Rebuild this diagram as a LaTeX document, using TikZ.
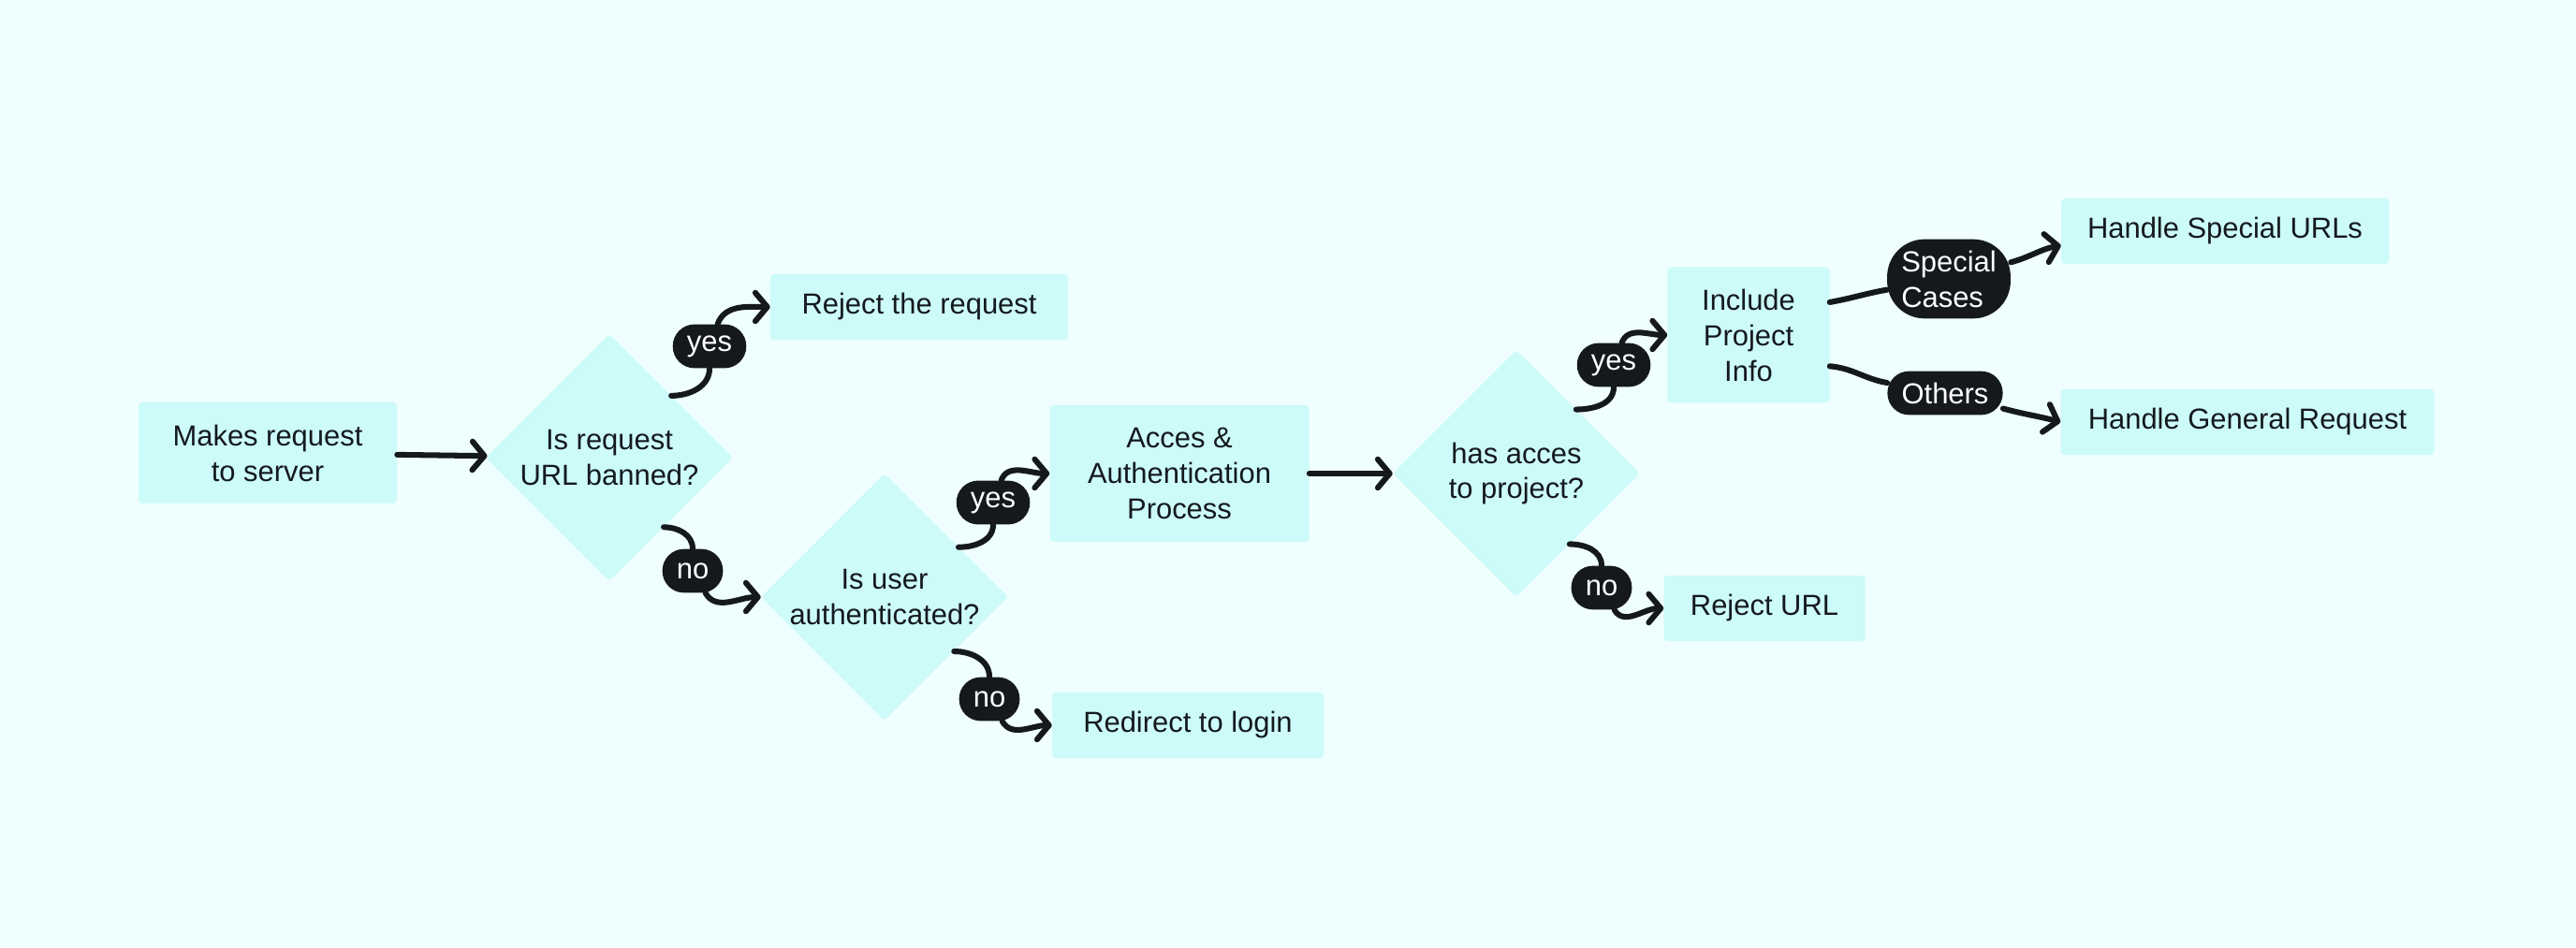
\documentclass[tikz,border=0pt]{standalone}
\usepackage{fontspec}
\setmainfont{Liberation Sans}
\usetikzlibrary{arrows.meta,shapes.geometric}
\definecolor{bgcyan}{HTML}{EFFEFE}
\definecolor{boxcyan}{HTML}{CCFBF9}
\definecolor{inkdark}{HTML}{15191E}
\tikzset{%
  >={Straight Barb[length=3.2mm,width=7.6mm,round]},
  % Specifications for style of nodes:
            base/.style = {rectangle, rounded corners=1mm, fill=boxcyan,
                           minimum width=7cm, minimum height=1.75cm,
                           text centered, align=center, text=inkdark,
                           font=\fontsize{22}{27}\selectfont},
       stepbox/.style = {base},
      decision/.style = {base, diamond, aspect=1, inner sep=-1mm,
                           minimum width=6.6cm, minimum height=6.6cm},
          pill/.style = {base, fill=inkdark, text=white, rounded corners=5.8mm,
                           minimum width=0pt, minimum height=1.17cm,
                           inner xsep=3.8mm, inner ysep=2.5mm},
          link/.style = {draw=inkdark, line width=4.3pt, line cap=round},
}

\begin{document}
\begin{tikzpicture}[node distance=9cm]
  % background
  \fill[bgcyan] (0,0) rectangle (68.8,25.3);

  % Specification of nodes (position, etc.)
  \node (makes)		[stepbox, minimum width=6.9cm, minimum height=2.7cm] at (7.15,13.2) {Makes request\\to server};
  \node (banned)	[decision, right of=makes, xshift=0.125cm, yshift=-0.125cm] {Is request\\URL banned?};
  \node (reject)	[stepbox, right of=banned, xshift=-0.725cm, yshift=4.025cm, minimum width=7.95cm] {Reject the request};
  \node (authd)		[decision, right of=banned, xshift=-1.65cm, yshift=-3.725cm] {Is user\\authenticated?};
  \node (acces)		[stepbox, right of=authd, xshift=-1.125cm, yshift=3.3cm, minimum width=6.925cm, minimum height=3.65cm] {Acces \&\\Authentication\\Process};
  \node (redirect)	[stepbox, right of=authd, xshift=-0.9cm, yshift=-3.425cm, minimum width=7.25cm] {Redirect to login};
  \node (project)	[decision, right of=acces] {has acces\\to project?};
  \node (include)	[stepbox, right of=project, xshift=-2.8cm, yshift=3.7cm, minimum width=4.325cm, minimum height=3.625cm] {Include\\Project\\Info};
  \node (rejurl)	[stepbox, right of=project, xshift=-2.375cm, yshift=-3.6cm, minimum width=5.375cm] {Reject URL};
  \node (special)	[stepbox, right of=include, xshift=3.725cm, yshift=2.775cm, minimum width=8.75cm] {Handle Special URLs};
  \node (general)	[stepbox, right of=include, xshift=4.325cm, yshift=-2.325cm, minimum width=9.975cm] {Handle General Request};

  % yes / no labels
  \node (yes1)		[pill] at (18.95,16.05) {yes};
  \node (no1)		[pill] at (18.5,10.05) {no};
  \node (yes2)		[pill] at (26.525,11.875) {yes};
  \node (no2)		[pill] at (26.425,6.625) {no};
  \node (yes3)		[pill] at (43.1,15.55) {yes};
  \node (no3)		[pill] at (42.775,9.6) {no};
  \node (speccases)	[pill, align=left, rounded corners=1cm, inner ysep=3mm] at (52.05,17.85) {Special\\Cases};
  \node (others)	[pill] at (51.95,14.8) {Others};

  \draw[->, link]	(makes) -- (banned);
  \draw[link]		(banned.45) to[out=0,in=-90] (yes1);
  \draw[->, link]	(yes1) to[out=70,in=180] (reject);
  \draw[link]		(banned.-52) to[out=0,in=90] (no1);
  \draw[->, link]	(no1) to[out=-60,in=180] (authd);
  \draw[link]		(authd.34) to[out=0,in=-90] (yes2);
  \draw[->, link]	(yes2) to[out=70,in=180] (acces);
  \draw[link]		(authd.-38) to[out=0,in=90] (no2);
  \draw[->, link]	(no2) to[out=-60,in=180] (redirect);
  \draw[->, link]	(acces) -- (project);
  \draw[link]		(project.47) to[out=0,in=-90] (yes3);
  \draw[->, link]	(yes3) to[out=70,in=180] (include);
  \draw[link]		(project.-53) to[out=0,in=90] (no3);
  \draw[->, link]	(no3) to[out=-60,in=180] (rejurl);
  \draw[link]		(include.22) to[out=10,in=190] (speccases);
  \draw[->, link]	(speccases) to[out=15,in=190] (special.185);
  \draw[link]		(include.-21) to[out=-5,in=170] (others);
  \draw[->, link]	(others) to[out=-15,in=165] (general.west);
\end{tikzpicture}
\end{document}
